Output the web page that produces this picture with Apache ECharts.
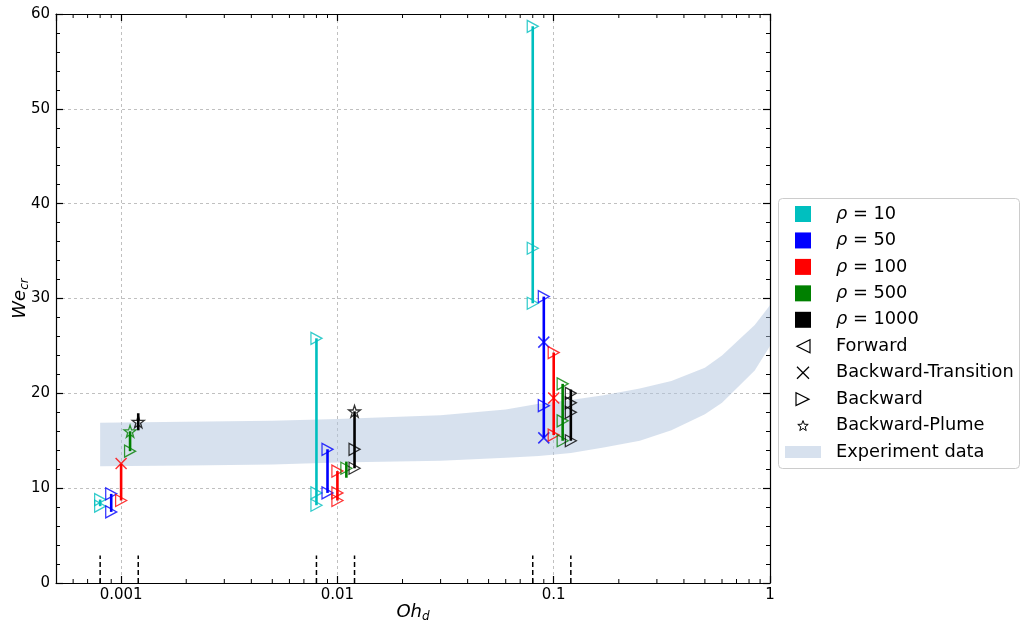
<!DOCTYPE html>
<html><head><meta charset="utf-8">
<script src="https://cdn.jsdelivr.net/npm/echarts@6/dist/echarts.min.js"></script>
<style>html,body{margin:0;padding:0;background:#fff}#c{width:1021px;height:623px}</style>
</head><body><div id="c"></div>
<script>
// ---------- data ----------
const rhoValues = ['10', '50', '100', '500', '1000'];
const markerNames = ['Forward', 'Backward-Transition', 'Backward', 'Backward-Plume'];
const bandName = 'Experiment data';

// vertical range lines: [Oh, low We, high We]
const rangeRho10   = [[0.0008, 8.1, 8.8], [0.008, 8.2, 25.8], [0.08, 29.5, 58.7]];
const rangeRho50   = [[0.0009, 7.5, 9.4], [0.009, 9.5, 14.1], [0.09, 15.3, 30.2]];
const rangeRho100  = [[0.001, 8.7, 12.6], [0.01, 8.7, 11.8], [0.1, 15.6, 24.3]];
const rangeRho500  = [[0.0011, 13.9, 16.0], [0.011, 11.1, 12.8], [0.11, 15.0, 21.0]];
const rangeRho1000 = [[0.0012, 16.1, 17.9], [0.012, 12.1, 18.1], [0.12, 15.0, 20.4]];

// Backward points [Oh, We]
const backwardRho10   = [[0.0008, 8.1], [0.0008, 8.8], [0.008, 8.2], [0.008, 9.5], [0.008, 25.8], [0.08, 29.5], [0.08, 35.3], [0.08, 58.7]];
const backwardRho50   = [[0.0009, 7.5], [0.0009, 9.4], [0.009, 9.5], [0.009, 14.1], [0.09, 18.7], [0.09, 30.2]];
const backwardRho100  = [[0.001, 8.7], [0.01, 8.7], [0.01, 9.5], [0.01, 11.8], [0.1, 15.6], [0.1, 24.3]];
const backwardRho500  = [[0.0011, 13.9], [0.011, 12.1], [0.11, 15.0], [0.11, 17.1], [0.11, 21.0]];
const backwardRho1000 = [[0.012, 12.1], [0.012, 14.1], [0.12, 15.0], [0.12, 18.0], [0.12, 19.0], [0.12, 20.0]];
// Backward-Transition points
const transitionRho50  = [[0.09, 15.3], [0.09, 25.4]];
const transitionRho100 = [[0.001, 12.6], [0.1, 19.5]];
// Backward-Plume points
const plumeRho500  = [[0.0011, 16.0]];
const plumeRho1000 = [[0.0012, 17.0], [0.012, 18.1]];

// Experiment band
const bandOh    = [0.0008, 0.002, 0.005, 0.01, 0.03, 0.06, 0.0853, 0.12, 0.17, 0.25, 0.35, 0.5, 0.6, 0.7, 0.85, 1.0];
const bandUpper = [16.9, 17.0, 17.1, 17.3, 17.7, 18.3, 18.9, 19.3, 19.8, 20.5, 21.3, 22.7, 24.0, 25.4, 27.2, 29.3];
const bandLower = [12.3, 12.4, 12.5, 12.7, 12.9, 13.2, 13.4, 13.7, 14.3, 15.0, 16.1, 17.8, 19.0, 20.5, 22.4, 25.0];

// short dashed markers at the bottom
const dashOh = [0.0008, 0.0012, 0.008, 0.012, 0.08, 0.12];
const dashTop = 2.9;

// axis ticks
const xMinorTicks = [0.0006, 0.0007, 0.0008, 0.0009, 0.002, 0.003, 0.004, 0.005, 0.006, 0.007, 0.008, 0.009,
  0.02, 0.03, 0.04, 0.05, 0.06, 0.07, 0.08, 0.09, 0.2, 0.3, 0.4, 0.5, 0.6, 0.7, 0.8, 0.9];

// ---------- styles ----------
const FONT = 'DejaVu Sans';
const rhoColors = ['#00bfbf', '#0000ff', '#ff0000', '#008000', '#000000'];
const ranges = [rangeRho10, rangeRho50, rangeRho100, rangeRho500, rangeRho1000];
const backwards = [backwardRho10, backwardRho50, backwardRho100, backwardRho500, backwardRho1000];
const transitions = [[], transitionRho50, transitionRho100, [], []];
const plumes = [[], [], [], plumeRho500, plumeRho1000];

const TRI_R = 'path://M0,0L10,5L0,10Z';
const XSYM = 'path://M0,0L10,10M10,0L0,10';
const STAR = 'path://M50,0L61.8,35.1L98.1,35.1L68.8,56.7L79.4,91L50,70L20.6,91L31.2,56.7L1.9,35.1L38.2,35.1Z';

const chart = echarts.init(document.getElementById('c'), null, {renderer: 'canvas'});

const series = [];
// band
series.push({
  type: 'custom', name: bandName, z: 1, silent: true,
  data: [[0.001, 15]],
  renderItem: function (params, api) {
    const pts = [];
    for (let i = 0; i < bandOh.length; i++) pts.push(api.coord([bandOh[i], bandUpper[i]]));
    for (let i = bandOh.length - 1; i >= 0; i--) pts.push(api.coord([bandOh[i], bandLower[i]]));
    return {type: 'polygon', shape: {points: pts}, style: {fill: 'rgba(176,196,222,0.5)', stroke: null}};
  }
});
// dashed bottom markers
series.push({
  type: 'custom', z: 3, silent: true,
  data: dashOh.map(v => [v, 0]),
  renderItem: function (params, api) {
    const a = api.coord([api.value(0), 0]);
    const b = api.coord([api.value(0), dashTop]);
    return {type: 'line', shape: {x1: a[0], y1: a[1], x2: b[0], y2: b[1]},
      style: {stroke: '#000', lineWidth: 1.5, lineDash: [5, 3]}};
  }
});
// x minor ticks (bottom & top)
series.push({
  type: 'custom', z: 5, silent: true,
  data: xMinorTicks.map(v => [v, 0]),
  renderItem: function (params, api) {
    const a = api.coord([api.value(0), 0]);
    const b = api.coord([api.value(0), 60]);
    return {type: 'group', children: [
      {type: 'line', shape: {x1: a[0], y1: a[1], x2: a[0], y2: a[1] - 4}, style: {stroke: '#000', lineWidth: 1}},
      {type: 'line', shape: {x1: b[0], y1: b[1], x2: b[0], y2: b[1] + 4}, style: {stroke: '#000', lineWidth: 1}}
    ]};
  }
});
// per-rho lines and markers
for (let k = 0; k < rhoValues.length; k++) {
  const col = rhoColors[k];
  series.push({
    type: 'custom', name: 'ρ = ' + rhoValues[k], z: 6, silent: true,
    data: ranges[k],
    encode: {x: 0, y: [1, 2]},
    renderItem: function (params, api) {
      const a = api.coord([api.value(0), api.value(1)]);
      const b = api.coord([api.value(0), api.value(2)]);
      return {type: 'line', shape: {x1: a[0], y1: a[1], x2: b[0], y2: b[1]},
        style: {stroke: col, lineWidth: 2.6}};
    }
  });
  const hollow = {color: 'rgba(0,0,0,0)', borderColor: col, borderWidth: 1.3};
  series.push({type: 'scatter', name: 'Backward', z: 7, data: backwards[k], symbol: TRI_R, symbolSize: [11, 12], itemStyle: hollow, silent: true});
  if (transitions[k].length) series.push({type: 'scatter', name: 'Backward-Transition', z: 7, data: transitions[k], symbol: XSYM, symbolSize: 11, itemStyle: {color: 'rgba(0,0,0,0)', borderColor: col, borderWidth: 1.5}, silent: true});
  if (plumes[k].length) series.push({type: 'scatter', name: 'Backward-Plume', z: 7, data: plumes[k], symbol: STAR, symbolSize: 12, itemStyle: hollow, silent: true});
}

// ---------- legend (graphic) ----------
const LX = 778, LY = 198, LW = 241, LH = 270;
const rowY0 = 214, rowStep = 26.45;
const iconX = 803, textX = 836;
const LFS = 17.8;
const legendEls = [{type: 'rect', shape: {x: LX + 0.5, y: LY + 0.5, width: LW, height: LH, r: 4},
  style: {fill: 'rgba(255,255,255,0.8)', stroke: '#cccccc', lineWidth: 1}, z: 100}];
rhoValues.forEach((r, i) => {
  const y = rowY0 + i * rowStep;
  legendEls.push({type: 'rect', shape: {x: iconX - 8, y: y - 8, width: 16, height: 16}, style: {fill: rhoColors[i]}, z: 101});
  legendEls.push({type: 'text', x: textX, y: y, z: 101,
    style: {rich: {i: {fontStyle: 'italic', fontSize: LFS, fontFamily: FONT, fill: '#000'}, n: {fontSize: LFS, fontFamily: FONT, fill: '#000'}},
      text: '{i|ρ}{n| = ' + r + '}', verticalAlign: 'middle', align: 'left'}});
});
function starPts(cx, cy, R, r) {
  const p = [];
  for (let i = 0; i < 10; i++) {
    const ang = -Math.PI / 2 + i * Math.PI / 5;
    const rr = i % 2 === 0 ? R : r;
    p.push([cx + rr * Math.cos(ang), cy + rr * Math.sin(ang)]);
  }
  return p;
}
markerNames.forEach((m, j) => {
  const y = rowY0 + (5 + j) * rowStep;
  const st = {fill: 'none', stroke: '#000', lineWidth: 1.2};
  if (j === 0) legendEls.push({type: 'polygon', shape: {points: [[iconX + 7, y - 6.5], [iconX + 7, y + 6.5], [iconX - 6, y]]}, style: st, z: 101});
  if (j === 1) {
    legendEls.push({type: 'line', shape: {x1: iconX - 6, y1: y - 6, x2: iconX + 6, y2: y + 6}, style: {stroke: '#000', lineWidth: 1.3}, z: 101});
    legendEls.push({type: 'line', shape: {x1: iconX - 6, y1: y + 6, x2: iconX + 6, y2: y - 6}, style: {stroke: '#000', lineWidth: 1.3}, z: 101});
  }
  if (j === 2) legendEls.push({type: 'polygon', shape: {points: [[iconX - 7, y - 6.5], [iconX - 7, y + 6.5], [iconX + 6, y]]}, style: st, z: 101});
  if (j === 3) legendEls.push({type: 'polygon', shape: {points: starPts(iconX, y + 0.5, 5.5, 2.3)}, style: {fill: 'none', stroke: '#000', lineWidth: 1}, z: 101});
  legendEls.push({type: 'text', x: textX, y: y, z: 101,
    style: {text: m, fill: '#000', font: LFS + 'px "' + FONT + '"', verticalAlign: 'middle', align: 'left'}});
});
{
  const y = rowY0 + 9 * rowStep;
  legendEls.push({type: 'rect', shape: {x: 785, y: y - 6, width: 36, height: 12}, style: {fill: 'rgba(176,196,222,0.5)'}, z: 101});
  legendEls.push({type: 'text', x: textX, y: y, z: 101,
    style: {text: bandName, fill: '#000', font: LFS + 'px "' + FONT + '"', verticalAlign: 'middle', align: 'left'}});
}

const axisCommon = {
  axisLine: {show: true, onZero: false, lineStyle: {color: '#000', width: 1.2}},
  axisTick: {show: true, inside: true, length: 7, lineStyle: {color: '#000', width: 1.2}},
};
const option = {
  animation: false,
  backgroundColor: '#fff',
  grid: {left: 56, right: 251, top: 14, bottom: 40, containLabel: false, outerBoundsMode: 'none'},
  xAxis: [
    Object.assign({
      type: 'log', logBase: 10, min: 0.0005, max: 1, position: 'bottom',
      axisLabel: {showMinLabel: false, color: '#000', fontSize: 15, fontFamily: FONT, margin: 5,
        formatter: v => String(+Number(v).toPrecision(6))},
      splitLine: {show: true, lineStyle: {color: '#b0b0b0', width: 0.8, type: [3, 3]}},
      name: '{i|Oh}{s|d}', nameLocation: 'middle', nameGap: 18, nameMoveOverlap: false,
      nameTextStyle: {rich: {
        i: {fontStyle: 'italic', fontSize: 18, fontFamily: FONT, color: '#000', lineHeight: 22},
        s: {fontStyle: 'italic', fontSize: 12, fontFamily: FONT, color: '#000', lineHeight: 12, verticalAlign: 'bottom', padding: [12, 0, 0, 0]}
      }}
    }, axisCommon),
    Object.assign({
      type: 'log', logBase: 10, min: 0.0005, max: 1, position: 'top',
      axisLabel: {show: false}, splitLine: {show: false}
    }, axisCommon)
  ],
  yAxis: [
    Object.assign({
      type: 'value', min: 0, max: 60, interval: 10, position: 'left',
      axisLabel: {color: '#000', fontSize: 15, fontFamily: FONT, margin: 6},
      minorTick: {show: true, splitNumber: 5, length: 4, lineStyle: {color: '#000', width: 1}},
      splitLine: {show: true, lineStyle: {color: '#b0b0b0', width: 0.8, type: [3, 3]}},
      name: '{i|We}{s|cr}', nameLocation: 'middle', nameGap: 25, nameRotate: 90, nameMoveOverlap: false,
      nameTextStyle: {rich: {
        i: {fontStyle: 'italic', fontSize: 18, fontFamily: FONT, color: '#000', lineHeight: 22},
        s: {fontStyle: 'italic', fontSize: 12, fontFamily: FONT, color: '#000', lineHeight: 12, verticalAlign: 'bottom', padding: [12, 0, 0, 0]}
      }}
    }, axisCommon),
    Object.assign({
      type: 'value', min: 0, max: 60, interval: 10, position: 'right',
      axisLabel: {show: false},
      minorTick: {show: true, splitNumber: 5, length: 4, lineStyle: {color: '#000', width: 1}},
      splitLine: {show: false}
    }, axisCommon)
  ],
  graphic: legendEls,
  series: series
};
chart.setOption(option);
</script></body></html>
